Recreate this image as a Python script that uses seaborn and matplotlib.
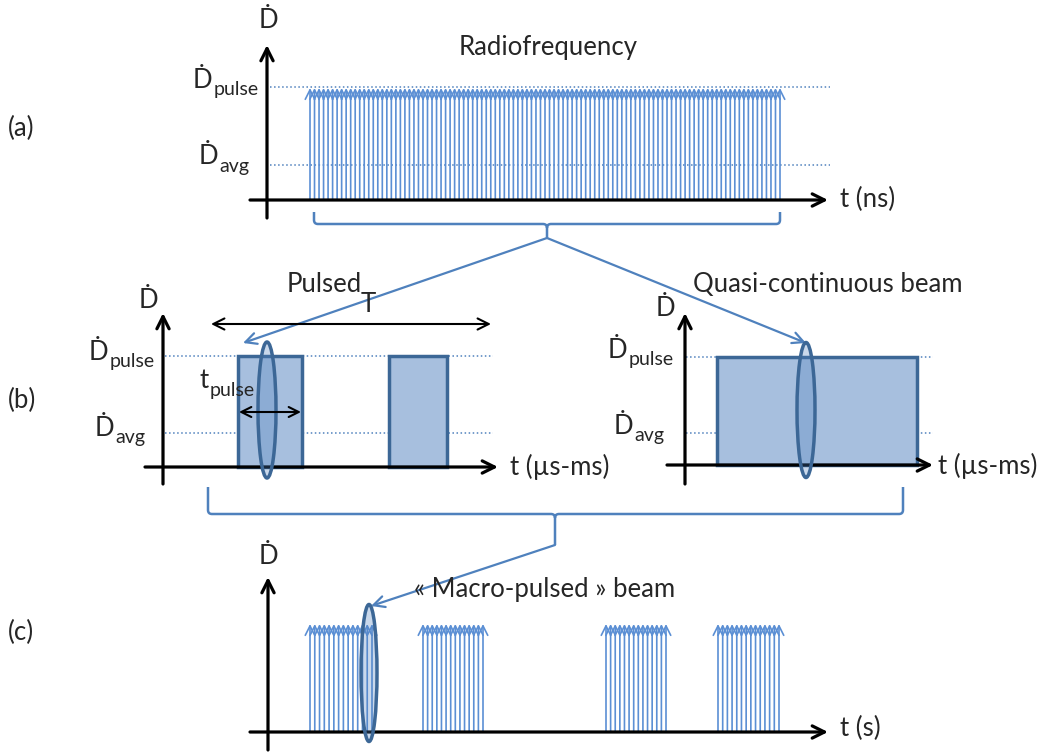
import numpy as np
import matplotlib
matplotlib.use('Agg')
import matplotlib.pyplot as plt
import seaborn as sns
from matplotlib.patches import Rectangle, Ellipse, PathPatch
from matplotlib.path import Path

# pulse trains, in canvas pixels (x to the right, y downwards)
rf_first, rf_last, rf_count = 310, 780, 105          # (a) radiofrequency micro-pulses
macro_groups = [(310, 372), (423, 483), (606, 666), (718, 779)]  # (c) macro-pulses
macro_count = 14                                     # micro-pulses per macro-pulse
pulsed_bars = [(238, 302), (389, 447)]               # (b) left, pulsed beam
qc_bar = (717, 917)                                  # (b) right, quasi-continuous

# dose-rate levels for each panel: base, pulse, avg
lev_a = (200, 87, 165)
lev_bl = (467, 356, 433)
lev_br = (465, 357, 433)
lev_c = (732, 623)

labels_panel = ['(a)', '(b)', '(c)']
titles = ['Radiofrequency', 'Pulsed', 'Quasi-continuous beam', '« Macro-pulsed » beam']
time_units = ['t (ns)', 't (µs-ms)', 't (µs-ms)', 't (s)']

BLUE = '#4f81bd'
PULSE = '#5b8fd4'
EDGE = '#3c6796'
FILL = '#a7bfde'

sns.set_theme(style='white')
plt.rcParams['font.family'] = ['Lato', 'DejaVu Sans']

fig = plt.figure(figsize=(10.6, 7.54), dpi=100)
ax = fig.add_axes([0, 0, 1, 1])
ax.set_xlim(0, 1060)
ax.set_ylim(754, 0)
ax.axis('off')

FS = 18.5
SUB = 14


def axis_arrow(x0, y0, x1, y1, lw=2.3):
    ax.annotate('', xy=(x1, y1), xytext=(x0, y0),
                arrowprops=dict(arrowstyle='->', lw=lw, color='black',
                                mutation_scale=22, shrinkA=0, shrinkB=0))


def dlabel(x, y, sub=None, fs=FS):
    # y is the centre of the D glyph; the subscript sits on its baseline
    t = ax.text(x, y, 'Ḋ', fontsize=fs, ha='left', va='center')
    if sub:
        ax.annotate(sub, xy=(1.0, 0.0), xycoords=t, xytext=(0.5, 2),
                    textcoords='offset points', fontsize=SUB, ha='left', va='center')
    return t


def pulses(xs, base, top, ms=17):
    for x in xs:
        ax.annotate('', xy=(x, top), xytext=(x, base),
                    arrowprops=dict(arrowstyle='->', lw=1.2, color=PULSE,
                                    mutation_scale=ms, shrinkA=0, shrinkB=0))


def brace(x0, x1, xc, ytop, yline, ytip, r=4):
    verts = [(x0, ytop), (x0, yline - r), (x0, yline), (x0 + r, yline),
             (xc - r, yline), (xc, yline), (xc, yline + r), (xc, ytip),
             (xc, yline + r), (xc, yline), (xc + r, yline),
             (x1 - r, yline), (x1, yline), (x1, yline - r), (x1, ytop)]
    codes = [Path.MOVETO, Path.LINETO, Path.CURVE3, Path.CURVE3,
             Path.LINETO, Path.CURVE3, Path.CURVE3, Path.LINETO,
             Path.MOVETO, Path.CURVE3, Path.CURVE3,
             Path.LINETO, Path.CURVE3, Path.CURVE3, Path.LINETO]
    ax.add_patch(PathPatch(Path(verts, codes), fill=False, edgecolor=BLUE, lw=1.8))


def connector(x0, y0, x1, y1):
    ax.annotate('', xy=(x1, y1), xytext=(x0, y0),
                arrowprops=dict(arrowstyle='->', lw=1.6, color=BLUE,
                                mutation_scale=20, shrinkA=0, shrinkB=0))


def lens(cx, cy, w, h):
    ax.add_patch(Ellipse((cx, cy), w, h, facecolor=BLUE, alpha=0.3, edgecolor='none', zorder=4))
    ax.add_patch(Ellipse((cx, cy), w, h, facecolor='none', edgecolor=EDGE, lw=2.5, zorder=5))


# ---- panel (a): radiofrequency
base, top, avg = lev_a
ax.plot([270, 830], [top, top], ls=':', lw=1.1, color=BLUE)
ax.plot([270, 830], [avg, avg], ls=':', lw=1.1, color=BLUE)
pulses(np.linspace(rf_first, rf_last, rf_count), base, top + 1)
axis_arrow(267, 218, 267, 45)
axis_arrow(250, base, 828, base)
ax.text(268, 20, 'Ḋ', fontsize=FS, ha='center', va='center')
dlabel(193, 80, 'pulse')
dlabel(199, 157, 'avg')
ax.text(548, 47, titles[0], fontsize=FS, ha='center', va='center')
ax.text(840, 199, time_units[0], fontsize=FS, ha='left', va='center')
ax.text(8, 128, labels_panel[0], fontsize=FS, ha='left', va='center')
brace(314, 780, 547, 212, 224, 238)
connector(547, 238, 243, 343)
connector(547, 238, 806, 343)

# ---- panel (b) left: pulsed
base, top, avg = lev_bl
ax.plot([165, 493], [top, top], ls=':', lw=1.1, color=BLUE)
ax.plot([165, 493], [avg, avg], ls=':', lw=1.1, color=BLUE)
for x0, x1 in pulsed_bars:
    ax.add_patch(Rectangle((x0, top), x1 - x0, base - top, facecolor=FILL,
                           edgecolor=EDGE, lw=2.5, zorder=3))
axis_arrow(163, 484, 163, 313)
axis_arrow(145, base, 498, base)
ax.text(148, 300, 'Ḋ', fontsize=FS, ha='center', va='center')
dlabel(89, 352, 'pulse')
dlabel(95, 428, 'avg')
ax.text(324, 285, titles[1], fontsize=FS, ha='center', va='center')
ax.text(368, 304, 'T', fontsize=FS, ha='center', va='center')
ax.annotate('', xy=(491, 324), xytext=(211, 324),
            arrowprops=dict(arrowstyle='<->', lw=1.5, color='black',
                            mutation_scale=20, shrinkA=0, shrinkB=0))
tp = ax.text(200, 381, 't', fontsize=FS, ha='left', va='center')
ax.annotate('pulse', xy=(1.0, 0.0), xycoords=tp, xytext=(0.5, 2),
            textcoords='offset points', fontsize=SUB, ha='left', va='center')
ax.annotate('', xy=(301, 412), xytext=(239, 412),
            arrowprops=dict(arrowstyle='<->', lw=1.5, color='black',
                            mutation_scale=18, shrinkA=0, shrinkB=0), zorder=6)
lens(267, 410, 18, 136)
ax.text(510, 467, time_units[1], fontsize=FS, ha='left', va='center')
ax.text(8, 400, labels_panel[1], fontsize=FS, ha='left', va='center')

# ---- panel (b) right: quasi-continuous
base, top, avg = lev_br
ax.plot([686, 933], [top, top], ls=':', lw=1.1, color=BLUE)
ax.plot([686, 933], [avg, avg], ls=':', lw=1.1, color=BLUE)
ax.add_patch(Rectangle((qc_bar[0], top), qc_bar[1] - qc_bar[0], base - top,
                       facecolor=FILL, edgecolor=EDGE, lw=2.5, zorder=3))
axis_arrow(685, 484, 685, 313)
axis_arrow(667, base, 933, base)
ax.text(665, 309, 'Ḋ', fontsize=FS, ha='center', va='center')
dlabel(608, 350, 'pulse')
dlabel(614, 426, 'avg')
ax.text(828, 285, titles[2], fontsize=FS, ha='center', va='center')
ax.text(938, 466, time_units[2], fontsize=FS, ha='left', va='center')
lens(806, 410, 18, 135)
brace(208, 903, 555, 487, 514, 545)
connector(555, 545, 371, 606)

# ---- panel (c): macro-pulsed
base, top = lev_c
for g0, g1 in macro_groups:
    pulses(np.linspace(g0, g1, macro_count), base, top + 1)
axis_arrow(268, 750, 268, 577)
axis_arrow(250, base, 828, base)
ax.text(268, 557, 'Ḋ', fontsize=FS, ha='center', va='center')
ax.text(545, 589, titles[3], fontsize=FS, ha='center', va='center')
ax.text(840, 728, time_units[3], fontsize=FS, ha='left', va='center')
ax.text(8, 632, labels_panel[2], fontsize=FS, ha='left', va='center')
lens(369, 673, 16, 137)

fig.savefig('out.png', dpi=100, facecolor='white')
